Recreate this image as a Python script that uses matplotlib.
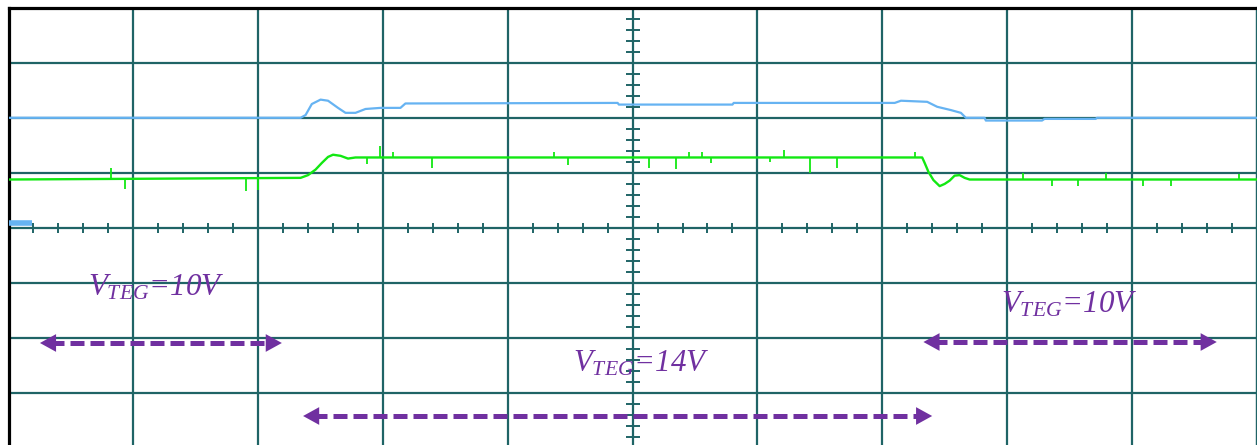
import numpy as np
import matplotlib
matplotlib.use('Agg')
import matplotlib.pyplot as plt

# traces in screen divisions (10 x 8 graticule)
blue_t = [0, 2.34, 2.38, 2.43, 2.50, 2.56, 2.64, 2.70, 2.78, 2.86, 2.98, 3.14, 3.18, 4.88, 4.89,
          5.80, 5.81, 7.10, 7.15, 7.36, 7.44, 7.55, 7.63, 7.67, 7.82, 7.83, 8.28, 8.30, 8.71, 8.72, 10]
blue_v = [6.0, 6.0, 6.05, 6.25, 6.33, 6.31, 6.18, 6.09, 6.09, 6.16, 6.18, 6.18, 6.26, 6.27, 6.24,
          6.24, 6.27, 6.27, 6.31, 6.29, 6.20, 6.14, 6.09, 6.0, 6.0, 5.95, 5.95, 5.98, 5.98, 6.0, 6.0]

green_t = [0, 2.34, 2.40, 2.46, 2.51, 2.56, 2.60, 2.66, 2.72, 2.78, 7.32, 7.34, 7.37, 7.41, 7.46,
           7.50, 7.54, 7.58, 7.62, 7.66, 7.70, 10]
green_v = [4.88, 4.91, 4.96, 5.06, 5.18, 5.29, 5.33, 5.31, 5.26, 5.28, 5.28, 5.18, 5.02, 4.87, 4.76,
           4.80, 4.86, 4.95, 4.96, 4.91, 4.88, 4.88]

spike_t = [0.82, 0.93, 1.90, 2.00, 2.87, 2.98, 3.08, 3.39, 4.37, 4.48, 5.13, 5.35, 5.45, 5.56,
           5.63, 6.10, 6.21, 6.42, 6.64, 7.26, 8.13, 8.36, 8.57, 8.79, 9.09, 9.31, 9.86]
spike_v = [5.09, 4.71, 4.67, 4.69, 5.16, 5.49, 5.38, 5.09, 5.38, 5.15, 5.09, 5.07, 5.38, 5.38,
           5.18, 5.20, 5.42, 5.0, 5.09, 5.38, 5.0, 4.76, 4.76, 5.0, 4.76, 4.76, 4.98]

ch1_marker_level = 4.09

labels = [r'$V_{TEG}$=10V', r'$V_{TEG}$=14V', r'$V_{TEG}$=10V']
label_x = [0.637, 4.523, 7.953]
label_y = [2.784, 1.387, 2.475]

arrow_x0 = [0.252, 2.36, 7.33]
arrow_x1 = [2.19, 7.40, 9.68]
arrow_y = [1.913, 0.588, 1.931]

grid_col = '#1f6466'
blue = '#66b3f2'
green = '#12e812'
purple = '#7030a0'

plt.rcParams['mathtext.fontset'] = 'custom'
plt.rcParams['mathtext.it'] = 'Liberation Serif:italic'
plt.rcParams['mathtext.rm'] = 'Liberation Serif'

fig = plt.figure(figsize=(12.57, 4.45), dpi=100)
ax = fig.add_axes([8.5/1257, -0.00764, 1248.2/1257, 440.8/445])
ax.set_xlim(0, 10)
ax.set_ylim(0, 8)
ax.set_xticks(np.arange(0, 11))
ax.set_yticks(np.arange(0, 9))
ax.tick_params(length=0, labelbottom=False, labelleft=False)
ax.grid(True, color=grid_col, lw=1.6)
ax.set_axisbelow(True)
for s in ['top', 'left']:
    ax.spines[s].set_color('black')
    ax.spines[s].set_linewidth(2.3)
ax.spines['right'].set_color(grid_col)
ax.spines['right'].set_linewidth(1.6)
ax.spines['bottom'].set_visible(False)

# center axes with minor ticks
mt = np.arange(0, 10.01, 0.2)
ax.plot(mt, np.full(len(mt), 4), ls='none', marker='|', ms=7, mew=1.4, color=grid_col, zorder=1)
mv = np.arange(0, 8.01, 0.2)
ax.plot(np.full(len(mv), 5), mv, ls='none', marker='_', ms=10, mew=1.4, color=grid_col, zorder=1)

ax.plot(blue_t, blue_v, color=blue, lw=1.6, zorder=3)
ax.plot(green_t, green_v, color=green, lw=1.7, zorder=3)
spike_base = np.interp(spike_t, green_t, green_v)
ax.vlines(spike_t, spike_base, spike_v, color=green, lw=1.3, zorder=3)
ax.plot([0, 0.19], [ch1_marker_level, ch1_marker_level], color=blue, lw=4, solid_capstyle='butt', zorder=3)

for x0, x1, y in zip(arrow_x0, arrow_x1, arrow_y):
    ax.plot([x0 + 0.08, x1 - 0.08], [y, y], color=purple, lw=3.6, dashes=(2.8, 1.2), zorder=4)
    for tip, tail in [(x0, x0 + 0.3), (x1, x1 - 0.3)]:
        ax.annotate('', xy=(tip, y), xytext=(tail, y),
                    arrowprops=dict(arrowstyle='-|>,head_length=0.4,head_width=0.22', mutation_scale=29,
                                    color=purple, lw=0, shrinkA=0, shrinkB=0), zorder=5)

for t, x, y in zip(labels, label_x, label_y):
    ax.text(x, y, t, color=purple, fontsize=22.3, family='Liberation Serif', style='italic',
            va='baseline', ha='left', zorder=6)

fig.savefig('out.png', dpi=100)
